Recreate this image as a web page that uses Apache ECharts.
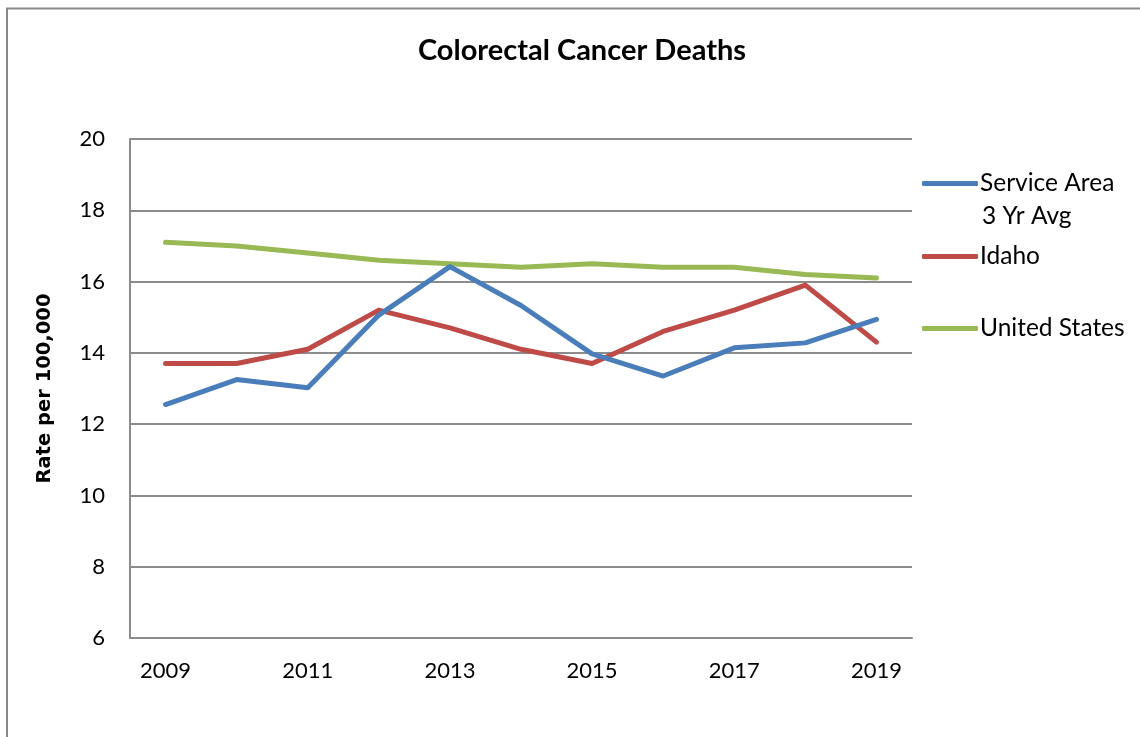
<!DOCTYPE html>
<html>
<head>
<meta charset="utf-8">
<script src="https://cdn.jsdelivr.net/npm/echarts@6/dist/echarts.min.js"></script>
<style>
  html, body { margin: 0; padding: 0; background: #fff; }
  #chart { width: 1140px; height: 737px; }
</style>
</head>
<body>
<div id="chart"></div>
<script>
// Colorectal cancer death rates per 100,000, 2009-2019
const years = ['2009', '2010', '2011', '2012', '2013', '2014', '2015', '2016', '2017', '2018', '2019'];
const serviceArea = [12.55, 13.25, 13.02, 15.06, 16.42, 15.33, 13.97, 13.35, 14.14, 14.28, 14.94];
const idaho = [13.7, 13.7, 14.1, 15.2, 14.7, 14.1, 13.7, 14.6, 15.2, 15.9, 14.3];
const unitedStates = [17.1, 17.0, 16.8, 16.6, 16.5, 16.4, 16.5, 16.4, 16.4, 16.2, 16.1];
const yTicks = { min: 6, max: 20, step: 2 };

const names = ['Service Area 3 Yr Avg', 'Idaho', 'United States'];
const colors = ['#4A7EBB', '#BE4B48', '#98B954'];
const values = [serviceArea, idaho, unitedStates];

const labelFont = 'Lato, "Open Sans", sans-serif';
const gray = '#8c8c8c';
const legendSize = 24.5;

const chart = echarts.init(document.getElementById('chart'), null, { renderer: 'canvas' });

function legendAt(idx, top, text) {
  return {
    show: true,
    data: [names[idx]],
    left: 922,
    top: top,
    orient: 'vertical',
    icon: 'roundRect',
    itemWidth: 56,
    itemHeight: 5,
    itemGap: 0,
    padding: 0,
    selectedMode: false,
    formatter: () => text,
    textStyle: { fontFamily: labelFont, fontSize: legendSize, color: '#000', padding: [0, 0, 0, -3] }
  };
}

chart.setOption({
  animation: false,
  backgroundColor: '#fff',
  title: {
    text: 'Colorectal Cancer Deaths',
    left: 577,
    top: 31,
    textAlign: 'center',
    textStyle: { fontFamily: labelFont, fontWeight: 'bold', fontSize: 29, color: '#000' }
  },
  legend: [
    legendAt(0, 171, 'Service Area'),
    legendAt(1, 244, 'Idaho'),
    legendAt(2, 316, 'United States')
  ],
  grid: { left: 130, top: 139, right: 228, bottom: 99, containLabel: false },
  xAxis: {
    type: 'category',
    data: years,
    boundaryGap: true,
    axisLine: { show: true, lineStyle: { color: gray, width: 2 } },
    axisTick: { show: false },
    axisLabel: {
      interval: 1,
      margin: 22,
      fontFamily: labelFont,
      fontSize: 22,
      color: '#000'
    },
    splitLine: { show: false }
  },
  yAxis: {
    type: 'value',
    min: yTicks.min,
    max: yTicks.max,
    interval: yTicks.step,
    name: 'Rate per 100,000',
    nameLocation: 'middle',
    nameGap: 75,
    nameRotate: 90,
    nameTextStyle: { fontFamily: '"DejaVu Sans", sans-serif', fontWeight: 'bold', fontSize: 19.5, color: '#000' },
    axisLine: { show: true, lineStyle: { color: gray, width: 2 } },
    axisTick: { show: false },
    axisLabel: { margin: 25, fontFamily: labelFont, fontSize: 22, color: '#000' },
    splitLine: { show: true, lineStyle: { color: gray, width: 2 } }
  },
  graphic: [
    {
      type: 'polyline',
      shape: { points: [[7, 737], [7, 8.5], [1140, 8.5]] },
      style: { stroke: '#888', lineWidth: 2, fill: null },
      silent: true
    },
    {
      type: 'text',
      left: 982,
      top: 204,
      style: { text: '3 Yr Avg', font: legendSize + 'px ' + labelFont, fill: '#000' },
      silent: true
    }
  ],
  series: values.map((v, i) => ({
    name: names[i],
    type: 'line',
    data: v,
    symbol: 'none',
    smooth: false,
    z: 3 - i + 2,
    lineStyle: { color: colors[i], width: 5, cap: 'round', join: 'round' },
    itemStyle: { color: colors[i] }
  }))
});
</script>
</body>
</html>
